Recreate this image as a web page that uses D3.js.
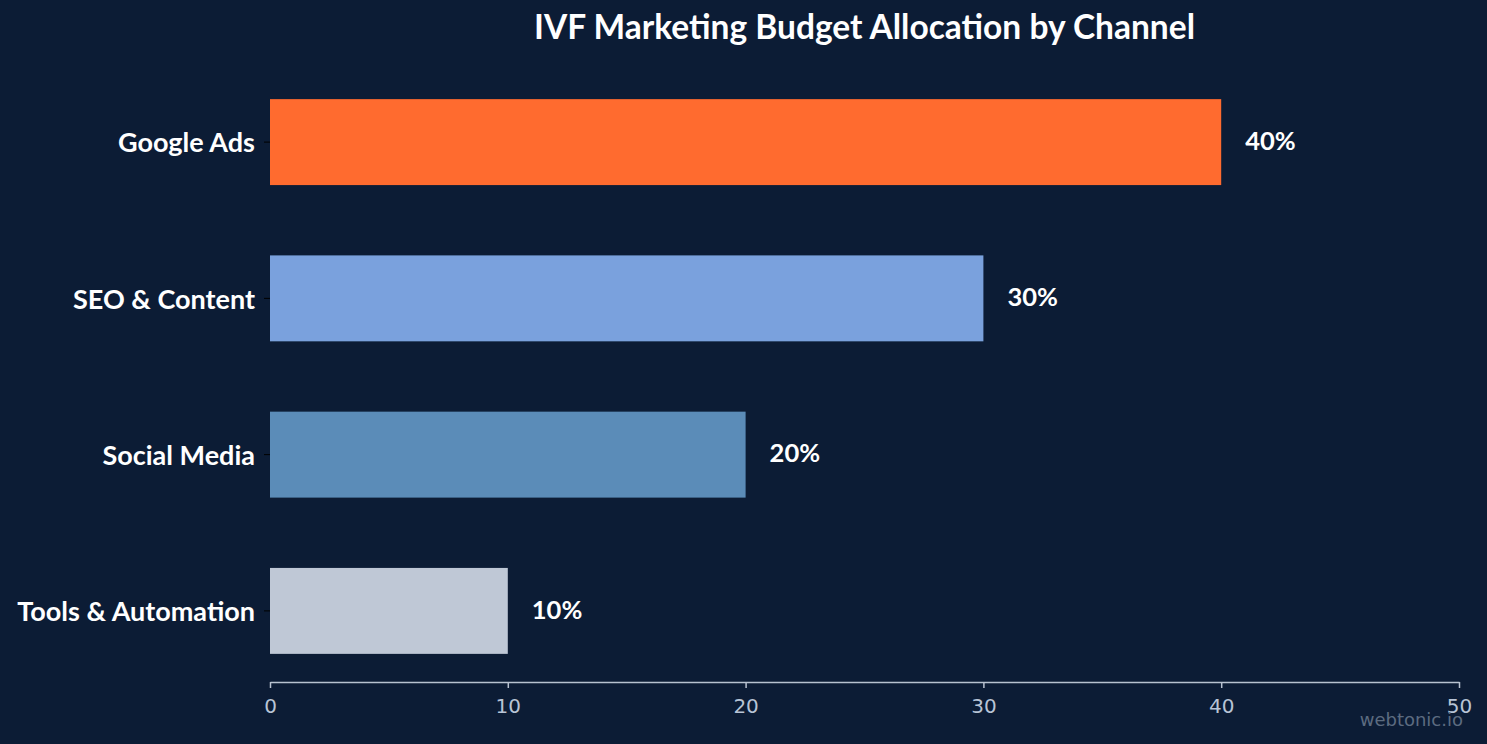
<!DOCTYPE html>
<html>
<head>
<meta charset="utf-8">
<script src="https://cdn.jsdelivr.net/npm/d3@7"></script>
<style>
  html, body { margin: 0; padding: 0; background: #0c1c35; }
  svg { display: block; }
</style>
</head>
<body>
<div id="chart"></div>
<script>
const channels = ["Google Ads", "SEO & Content", "Social Media", "Tools & Automation"];
const shares = [40, 30, 20, 10];
const barColors = ["#ff6b2f", "#7aa1dd", "#5b8cb8", "#bfc8d6"];
const xTicks = [0, 10, 20, 30, 40, 50];

const width = 1487;
const height = 744;
const margin = { top: 71, right: 28, bottom: 62, left: 270 };

const svg = d3
  .select("#chart")
  .append("svg")
  .attr("width", width)
  .attr("height", height)
  .attr("viewBox", [0, 0, width, height]);

svg.append("rect").attr("width", width).attr("height", height).attr("fill", "#0c1c35");

const x = d3
  .scaleLinear()
  .domain([0, 50])
  .range([margin.left, width - margin.right]);

const y = d3
  .scaleBand()
  .domain(channels)
  .range([margin.top, height - margin.bottom])
  .paddingInner(0.45)
  .paddingOuter(0.18);

// title
svg
  .append("text")
  .attr("x", (margin.left + width - margin.right) / 2)
  .attr("y", 39)
  .attr("text-anchor", "middle")
  .attr("fill", "#ffffff")
  .style("font", "bold 33.5px Lato")
  .text("IVF Marketing Budget Allocation by Channel");

// bars
svg
  .append("g")
  .selectAll("rect")
  .data(channels)
  .join("rect")
  .attr("x", x(0))
  .attr("y", (d) => y(d))
  .attr("width", (d, i) => x(shares[i]) - x(0))
  .attr("height", y.bandwidth())
  .attr("fill", (d, i) => barColors[i]);

// value labels
svg
  .append("g")
  .selectAll("text")
  .data(channels)
  .join("text")
  .attr("x", (d, i) => x(shares[i]) + 24)
  .attr("y", (d) => y(d) + y.bandwidth() / 2)
  .attr("dy", "0.3em")
  .attr("fill", "#ffffff")
  .style("font", "bold 25.5px Lato")
  .text((d, i) => `${shares[i]}%`);

// y axis (labels + small dark ticks, no domain line)
const yAxis = svg
  .append("g")
  .attr("transform", `translate(${margin.left}, 0)`)
  .call(d3.axisLeft(y).tickSize(6).tickPadding(9));
yAxis.select(".domain").remove();
yAxis.selectAll(".tick line").attr("stroke", "#000000");
yAxis
  .selectAll(".tick text")
  .attr("fill", "#ffffff")
  .attr("dy", "0.38em")
  .style("font", "bold 27px Lato");

// x axis
const xAxis = svg
  .append("g")
  .attr("transform", `translate(0, ${height - margin.bottom})`)
  .call(d3.axisBottom(x).tickValues(xTicks).tickSize(6).tickPadding(11).tickSizeOuter(0));
xAxis.attr("font-size", 20).attr("font-family", "DejaVu Sans");
xAxis.select(".domain").attr("stroke", "#b8c2d0").attr("stroke-width", 1.5);
xAxis.selectAll(".tick line").attr("stroke", "#b8c2d0").attr("stroke-width", 1.5);
xAxis.selectAll(".tick text").attr("fill", "#b8c4d6");

// watermark
svg
  .append("text")
  .attr("x", 1463)
  .attr("y", 726)
  .attr("text-anchor", "end")
  .attr("fill", "#5c6b80")
  .attr("font-size", 18)
  .attr("font-family", "DejaVu Sans")
  .text("webtonic.io");
</script>
</body>
</html>
